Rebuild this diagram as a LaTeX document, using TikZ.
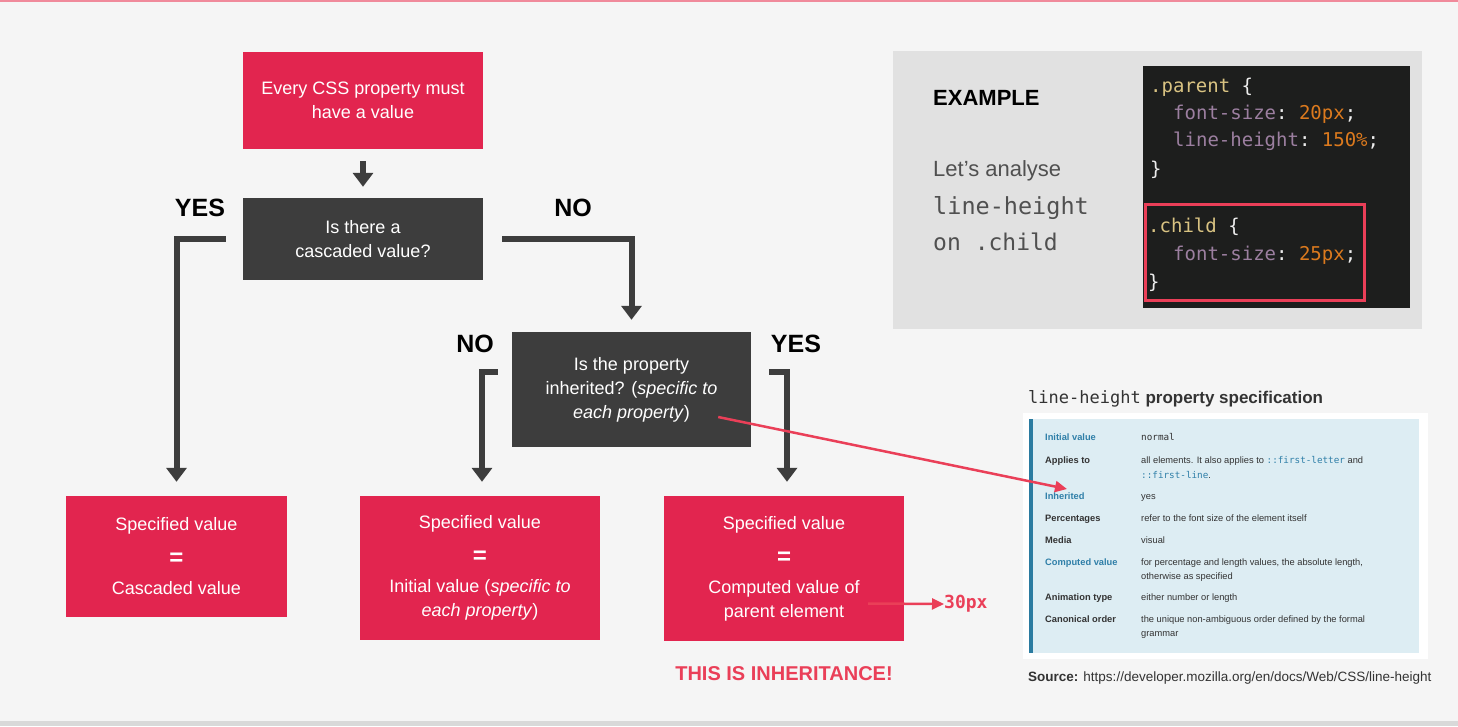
\documentclass[tikz,border=0pt]{standalone}
\usepackage{fontspec}
\setmainfont{Liberation Sans}
\setmonofont{DejaVu Sans Mono}
\usetikzlibrary{arrows.meta,calc}
\definecolor{bg}{HTML}{F5F5F5}
\definecolor{topline}{HTML}{F08A9B}
\definecolor{botband}{HTML}{D9D9D9}
\definecolor{cred}{HTML}{E2254F}
\definecolor{cdark}{HTML}{3D3D3D}
\definecolor{arrowred}{HTML}{EA3F58}
\definecolor{panelgray}{HTML}{E1E1E1}
\definecolor{codebg}{HTML}{1D1E1D}
\definecolor{csel}{HTML}{D9C382}
\definecolor{cprop}{HTML}{9C7FA0}
\definecolor{cval}{HTML}{DC7A1E}
\definecolor{cpunct}{HTML}{EDEDED}
\definecolor{exgray}{HTML}{505050}
\definecolor{specblue}{HTML}{DDEDF3}
\definecolor{barblue}{HTML}{2A7BA0}
\definecolor{linkblue}{HTML}{2F7FA8}
\definecolor{spectext}{HTML}{333333}
\newcommand{\eqsign}{\raisebox{-3pt}{\fontsize{24}{24}\selectfont\bfseries =}}
\begin{document}
\begin{tikzpicture}[x=1pt,y=-1pt,
  box/.style={draw=none,inner sep=0pt,align=center,text=white,font=\fontsize{18}{24}\selectfont},
  redbox/.style={box,fill=cred},
  darkbox/.style={box,fill=cdark},
  conn/.style={draw=cdark,line width=6pt,line join=miter,-{Triangle[width=20pt,length=14pt]}},
  yesno/.style={font=\fontsize{25}{28}\selectfont\bfseries,text=black,inner sep=0pt},
  redline/.style={draw=arrowred,line width=2.5pt,-{Triangle[width=11pt,length=12pt]}},
  codeline/.style={anchor=west,inner sep=0pt,font=\fontsize{19}{22}\ttfamily,text height=14pt,text depth=4pt},
  exline/.style={anchor=west,inner sep=0pt,text height=16pt,text depth=5pt},
  speclab/.style={anchor=west,inner sep=0pt,font=\fontsize{9.3}{11}\selectfont\bfseries,text=spectext,text height=7pt,text depth=2pt},
  specval/.style={anchor=west,inner sep=0pt,font=\fontsize{9.3}{11}\selectfont,text=spectext,text height=7pt,text depth=2pt}
]
\useasboundingbox (0,0) rectangle (1458,726);
\fill[bg] (0,0) rectangle (1458,726);
\fill[topline] (0,0) rectangle (1458,1.5);
\fill[botband] (0,721) rectangle (1458,726);

% flowchart nodes
\node[redbox,minimum width=240pt,minimum height=97pt] (start) at (363,100.5) {Every CSS property must\\have a value};
\node[darkbox,minimum width=240pt,minimum height=82pt] (q1) at (363,239) {Is there a\\cascaded value?};
\node[darkbox,minimum width=239pt,minimum height=115pt] (q2) at (631.5,389.5) {Is the property\\inherited? (\textit{specific to}\\\textit{each property})};
\node[redbox,minimum width=221pt,minimum height=121pt] (sA) at (176.5,556.5) {Specified value\\[8pt]\eqsign\\[8pt]Cascaded value};
\node[redbox,minimum width=240pt,minimum height=144pt] (sB) at (480,568) {Specified value\\[8pt]\eqsign\\[8pt]Initial value (\textit{specific to}\\\textit{each property})};
\node[redbox,minimum width=240pt,minimum height=145pt] (sC) at (784,568.5) {Specified value\\[8pt]\eqsign\\[8pt]Computed value of\\parent element};

\node[yesno] (yes1) at (200,208) {YES};
\node[yesno] (no1) at (573,208) {NO};
\node[yesno] (no2) at (475,344) {NO};
\node[yesno] (yes2) at (796,344) {YES};

\node[inner sep=0pt,text=arrowred,font=\fontsize{20}{24}\selectfont\bfseries] (inh) at (784,674) {THIS IS INHERITANCE!};
\node[inner sep=0pt,anchor=west,text=arrowred,font=\fontsize{18}{20}\ttfamily\bfseries] (px30) at (944,604) {30px};

% connectors
\draw[conn] ([yshift=-12pt]start.south) -- ([yshift=11pt]q1.north);
\draw[conn] ([xshift=-17pt]q1.west) -| ([yshift=14pt]sA.north);
\draw[conn] ([xshift=19pt]q1.east) -| ([yshift=12pt]q2.north);
\draw[conn] ([xshift=-14pt,yshift=17.5pt]q2.west) -| ([xshift=2pt,yshift=14pt]sB.north);
\draw[conn] ([xshift=18pt,yshift=17.5pt]q2.east) -| ([xshift=3pt,yshift=14pt]sC.north);
\draw[redline] ([xshift=-36pt,yshift=-35pt]sC.east) -- (px30.west);

% example panel
\fill[panelgray] (893,51) rectangle (1422,329);
\node[exline,font=\fontsize{22}{26}\selectfont\bfseries,text=black] (exa) at (933,100) {EXAMPLE};
\node[exline,font=\fontsize{22}{26}\selectfont,text=exgray] (ex1) at (933,171) {Let’s analyse};
\node[exline,font=\fontsize{23.5}{26}\ttfamily,text=exgray] (ex2) at (933,209) {line-height};
\node[exline,font=\fontsize{23}{26}\ttfamily,text=exgray] (ex3) at (933,245) {on .child};
\fill[codebg] (1143,66) rectangle (1410,308);
\node[codeline] (c1) at (1150,87) {\textcolor{csel}{.parent} \textcolor{cpunct}{\{}};
\node[codeline] (c2) at (1173,114) {\textcolor{cprop}{font-size}\textcolor{cpunct}{:} \textcolor{cval}{20px}\textcolor{cpunct}{;}};
\node[codeline] (c3) at (1173,141) {\textcolor{cprop}{line-height}\textcolor{cpunct}{:} \textcolor{cval}{150\%}\textcolor{cpunct}{;}};
\node[codeline] (c4) at (1150,170) {\textcolor{cpunct}{\}}};
\node[codeline] (c5) at (1148,227) {\textcolor{csel}{.child} \textcolor{cpunct}{\{}};
\node[codeline] (c6) at (1173,255) {\textcolor{cprop}{font-size}\textcolor{cpunct}{:} \textcolor{cval}{25px}\textcolor{cpunct}{;}};
\node[codeline] (c7) at (1148,283) {\textcolor{cpunct}{\}}};
\draw[arrowred,line width=3pt] (1145,204) rectangle (1364,300);

% spec
\node[anchor=west,inner sep=0pt,text=spectext,font=\fontsize{17}{20}\selectfont] (stitle) at (1028,399) {{\ttfamily line-height} \textbf{property specification}};
\fill[white] (1023,413) rectangle (1428,659);
\fill[specblue] (1029,419) rectangle (1419,653);
\fill[barblue] (1029,419) rectangle (1032.5,653);
\node[speclab,text=linkblue] (l1) at (1045,438) {Initial value};
\node[specval] (v1) at (1141,438) {\ttfamily normal};
\node[speclab] (l2) at (1045,461) {Applies to};
\node[specval] (v2) at (1141,461) {all elements. It also applies to {\ttfamily\color{linkblue}::first-letter} and};
\node[specval] (v2b) at (1141,476) {{\ttfamily\color{linkblue}::first-line}.};
\node[speclab,text=linkblue] (l3) at (1045,497) {Inherited};
\node[specval] (v3) at (1141,497) {yes};
\node[speclab] (l4) at (1045,519) {Percentages};
\node[specval] (v4) at (1141,519) {refer to the font size of the element itself};
\node[speclab] (l5) at (1045,541) {Media};
\node[specval] (v5) at (1141,541) {visual};
\node[speclab,text=linkblue] (l6) at (1045,563) {Computed value};
\node[specval] (v6) at (1141,563) {for percentage and length values, the absolute length,};
\node[specval] (v6b) at (1141,577) {otherwise as specified};
\node[speclab] (l7) at (1045,598) {Animation type};
\node[specval] (v7) at (1141,598) {either number or length};
\node[speclab] (l8) at (1045,620) {Canonical order};
\node[specval] (v8) at (1141,620) {the unique non-ambiguous order defined by the formal};
\node[specval] (v8b) at (1141,634) {grammar};
\node[anchor=west,inner sep=0pt,text=spectext,font=\fontsize{13.5}{16}\selectfont] (src) at (1028,678) {\textbf{Source:} https://developer.mozilla.org/en/docs/Web/CSS/line-height};

\coordinate (inhtip) at (1067,489);
\draw[redline] ([xshift=-33pt,yshift=-27.5pt]q2.east) -- (inhtip);
\end{tikzpicture}
\end{document}
